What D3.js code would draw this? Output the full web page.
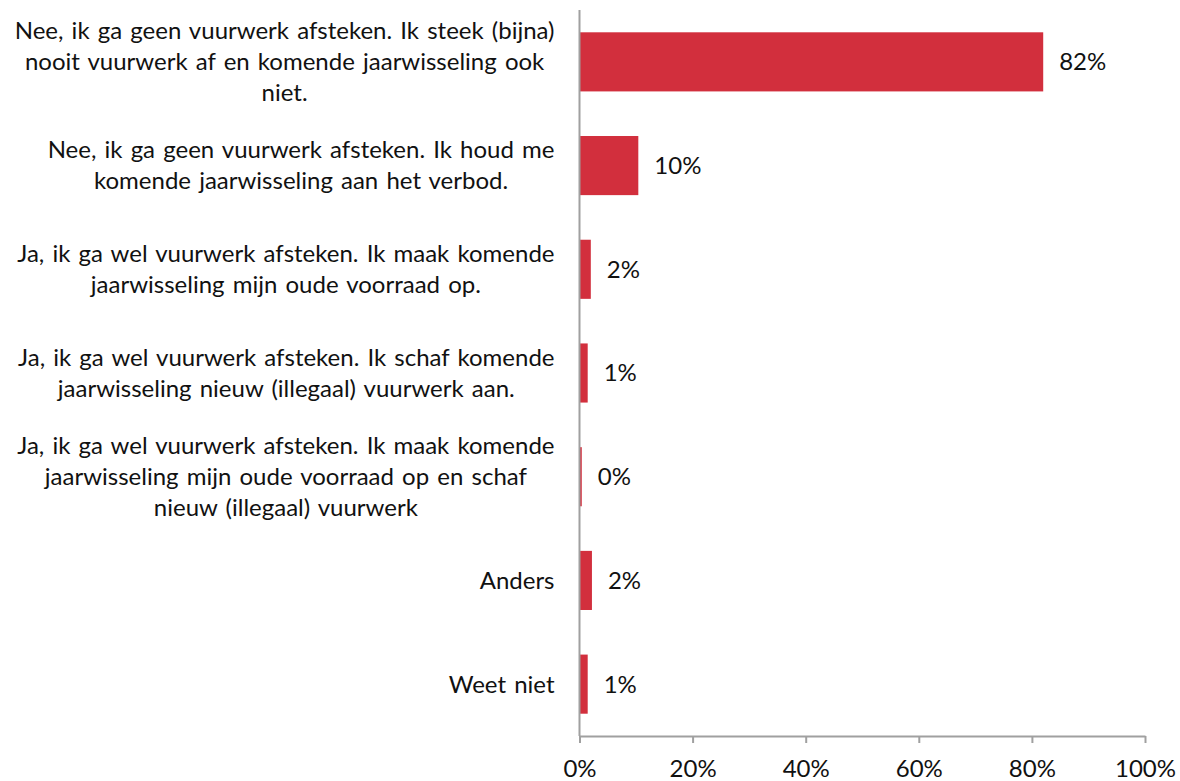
<!DOCTYPE html>
<html>
<head>
<meta charset="utf-8">
<script src="https://cdn.jsdelivr.net/npm/d3@7"></script>
<style>
  body { margin: 0; background: #fff; }
  svg { display: block; font-family: Lato, "Open Sans", sans-serif; }
  .cat-label, .value-label, .tick-label { fill: #111; font-size: 24px; }
  .cat-label { word-spacing: 2px; }
</style>
</head>
<body>
<svg id="chart"></svg>
<script>
// Answer categories (each entry = wrapped lines of the label)
const categories = [
  ['Nee, ik ga geen vuurwerk afsteken. Ik steek (bijna)', 'nooit vuurwerk af en komende jaarwisseling ook', 'niet.'],
  ['Nee, ik ga geen vuurwerk afsteken. Ik houd me', 'komende jaarwisseling aan het verbod.'],
  ['Ja, ik ga wel vuurwerk afsteken. Ik maak komende', 'jaarwisseling mijn oude voorraad op.'],
  ['Ja, ik ga wel vuurwerk afsteken. Ik schaf komende', 'jaarwisseling nieuw (illegaal) vuurwerk aan.'],
  ['Ja, ik ga wel vuurwerk afsteken. Ik maak komende', 'jaarwisseling mijn oude voorraad op en schaf', 'nieuw (illegaal) vuurwerk'],
  ['Anders'],
  ['Weet niet']
];
// Share of respondents (%)
const values = [82, 10.4, 2.0, 1.45, 0.4, 2.2, 1.45];
const xTicks = [0, 20, 40, 60, 80, 100];

const width = 1180, height = 781;
const margin = {top: 10, right: 35, bottom: 45, left: 579.5};
const lineHeight = 31;

const data = categories.map((lines, i) => ({id: i, lines, value: values[i]}));

const svg = d3.select('#chart')
    .attr('width', width)
    .attr('height', height);

const x = d3.scaleLinear()
    .domain([0, 100])
    .range([margin.left, width - margin.right]);

const y = d3.scaleBand()
    .domain(data.map(d => d.id))
    .range([margin.top, height - margin.bottom])
    .paddingInner(0.43)
    .paddingOuter(0.215);

// Bars
svg.append('g')
  .selectAll('rect')
  .data(data)
  .join('rect')
    .attr('x', x(0))
    .attr('y', d => y(d.id))
    .attr('width', d => x(d.value) - x(0))
    .attr('height', y.bandwidth())
    .attr('fill', '#d22f3d');

// Value labels
svg.append('g')
  .selectAll('text')
  .data(data)
  .join('text')
    .attr('class', 'value-label')
    .attr('x', d => x(d.value) + 16)
    .attr('y', d => y(d.id) + y.bandwidth() / 2)
    .attr('dy', '0.35em')
    .text(d => Math.round(d.value) + '%');

// Category labels: block right-aligned to the axis, lines centered inside the block
const labelRight = margin.left - 25;
const catG = svg.append('g')
  .selectAll('g')
  .data(data)
  .join('g');

catG.each(function(d) {
  const g = d3.select(this);
  const cy = y(d.id) + y.bandwidth() / 2;
  const texts = g.selectAll('text')
    .data(d.lines)
    .join('text')
      .attr('class', 'cat-label')
      .attr('text-anchor', 'middle')
      .attr('y', (l, i) => cy + (i - (d.lines.length - 1) / 2) * lineHeight)
      .attr('dy', '0.35em')
      .text(l => l);
  const maxW = d3.max(texts.nodes(), n => n.getComputedTextLength());
  texts.attr('x', labelRight - maxW / 2);
});

// X axis
const xAxis = d3.axisBottom(x)
    .tickValues(xTicks)
    .tickSize(7)
    .tickSizeOuter(0)
    .tickFormat(d => d + '%');

const xAxisG = svg.append('g')
    .attr('transform', `translate(0,${height - margin.bottom})`)
    .attr('font-family', null)
    .attr('font-size', null)
    .call(xAxis);
xAxisG.attr('font-family', null).attr('font-size', null);
xAxisG.select('.domain').attr('stroke', '#a0a0a0').attr('stroke-width', 2);
xAxisG.selectAll('.tick line').attr('stroke', '#a0a0a0').attr('stroke-width', 2);
xAxisG.selectAll('.tick text')
    .attr('class', 'tick-label')
    .attr('y', 33)
    .attr('dy', '0.35em');

// Y axis line
svg.append('line')
    .attr('x1', x(0)).attr('x2', x(0))
    .attr('y1', margin.top)
    .attr('y2', height - margin.bottom)
    .attr('stroke', '#a0a0a0')
    .attr('stroke-width', 2);
</script>
</body>
</html>
